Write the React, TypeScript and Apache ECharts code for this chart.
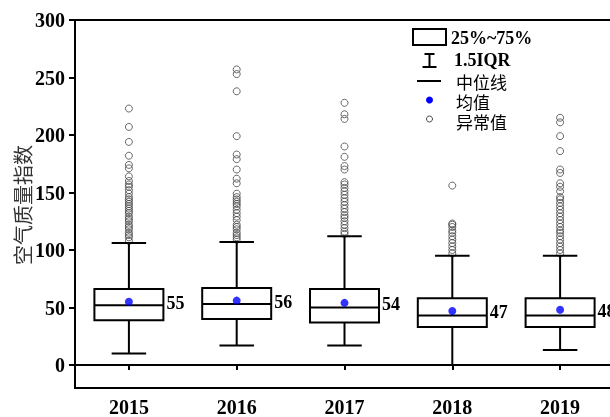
import React, { useEffect, useRef } from "react";
import * as echarts from "echarts";

// Years on the category axis
const years = ["2015", "2016", "2017", "2018", "2019"];

// Box statistics per year: lower whisker, Q1, median, Q3, upper whisker
const lowerWhisker = [10, 17, 17, 0, 13];
const q1 = [39, 40, 37, 33, 33];
const medians = [52, 53, 50, 43, 43];
const q3 = [66, 67, 66, 58, 58];
const upperWhisker = [106, 107, 112, 95, 95];

// Mean air quality index per year
const means = [55, 56, 54, 47, 48];

// Outliers per year
const outliers2015 = [223, 207, 194, 182, 174, 171, 164, 160, 157, 155, 152, 149, 146, 144, 142, 140, 138, 136, 134, 132, 129, 127, 125, 122, 120, 118, 115, 113, 111, 108];
const outliers2016 = [257, 253, 238, 199, 183, 179, 170, 162, 158, 149, 146, 144, 142, 140, 138, 135, 132, 129, 126, 122, 120, 118, 115, 113, 111, 109];
const outliers2017 = [228, 218, 214, 190, 181, 173, 170, 159, 157, 154, 151, 148, 145, 142, 139, 136, 133, 130, 128, 125, 122, 119, 116, 114];
const outliers2018 = [156, 123, 122, 120, 117, 115, 112, 109, 106, 103, 100, 97];
const outliers2019 = [215, 211, 199, 186, 170, 167, 158, 155, 151, 146, 144, 141, 138, 135, 132, 129, 126, 123, 120, 117, 115, 112, 109, 106, 103, 100, 97];

// Axis ticks
const yTicks = [0, 50, 100, 150, 200, 250, 300];

const serif = '"Times New Roman", "Liberation Serif", serif';
const cjk = '"Noto Sans CJK SC", "Noto Sans", sans-serif';

export default function App() {
  const ref = useRef<HTMLDivElement>(null);

  useEffect(() => {
    if (!ref.current) return;
    const chart = echarts.init(ref.current, null, { renderer: "svg" });

    const outlierSets = [outliers2015, outliers2016, outliers2017, outliers2018, outliers2019];
    const outlierData: number[][] = [];
    outlierSets.forEach((set, i) => set.forEach((v) => outlierData.push([i, v])));

    const boxData = years.map((_, i) => [
      i,
      lowerWhisker[i],
      q1[i],
      medians[i],
      q3[i],
      upperWhisker[i],
      means[i],
    ]);

    const meanData = years.map((_, i) => [i, means[i]]);

    const renderBox = (params: any, api: any) => {
      const idx = api.value(0);
      const x = api.coord([idx, 0])[0];
      const band = api.size([1, 0])[0];
      const hb = band * 0.32;
      const hc = band * 0.16;
      const yLow = api.coord([idx, api.value(1)])[1];
      const yQ1 = api.coord([idx, api.value(2)])[1];
      const yMed = api.coord([idx, api.value(3)])[1];
      const yQ3 = api.coord([idx, api.value(4)])[1];
      const yHigh = api.coord([idx, api.value(5)])[1];
      const yMean = api.coord([idx, api.value(6)])[1];
      const line = { stroke: "#000", lineWidth: 2 };
      return {
        type: "group",
        children: [
          { type: "line", shape: { x1: x, y1: yQ3, x2: x, y2: yHigh }, style: line },
          { type: "line", shape: { x1: x - hc, y1: yHigh, x2: x + hc, y2: yHigh }, style: line },
          { type: "line", shape: { x1: x, y1: yQ1, x2: x, y2: yLow }, style: line },
          { type: "line", shape: { x1: x - hc, y1: yLow, x2: x + hc, y2: yLow }, style: line },
          {
            type: "rect",
            shape: { x: x - hb, y: yQ3, width: hb * 2, height: yQ1 - yQ3 },
            style: { fill: "rgba(0,0,0,0)", stroke: "#000", lineWidth: 2 },
          },
          { type: "line", shape: { x1: x - hb, y1: yMed, x2: x + hb, y2: yMed }, style: line },
          {
            type: "text",
            x: x + hb + 3,
            y: yMean + 1,
            style: {
              text: String(api.value(6)),
              fill: "#000",
              font: `bold 18px ${serif}`,
              verticalAlign: "middle",
              textAlign: "left",
            },
          },
        ],
      };
    };

    const legendX = 429.5;
    const legendText = (text: string, x: number, y: number, bold: boolean, family: string, size: number) => ({
      type: "text",
      x,
      y,
      style: {
        text,
        fill: "#000",
        font: `${bold ? "bold " : ""}${size}px ${family}`,
        lineHeight: size,
        verticalAlign: "middle",
        textAlign: "left",
      },
    });

    chart.setOption({
      animation: false,
      grid: [
        {
          left: 75,
          width: 539,
          top: 20,
          bottom: 29,
          show: true,
          borderColor: "#000",
          borderWidth: 2,
          backgroundColor: "rgba(0,0,0,0)",
        },
        { left: 75, width: 539, top: 20, height: 345 },
      ],
      xAxis: [
        {
          type: "category",
          data: years,
          gridIndex: 0,
          boundaryGap: true,
          axisLine: { show: true, lineStyle: { color: "#000", width: 2 } },
          axisTick: { show: true, alignWithLabel: true, length: 5, lineStyle: { color: "#000", width: 2 } },
          axisLabel: { color: "#000", fontFamily: serif, fontWeight: "bold", fontSize: 20, margin: 9 },
          splitLine: { show: false },
        },
        {
          type: "category",
          data: years,
          gridIndex: 1,
          show: false,
        },
      ],
      yAxis: [
        {
          type: "value",
          gridIndex: 0,
          min: -20,
          max: 300,
          axisLine: { show: true, lineStyle: { color: "#000", width: 2 } },
          axisTick: { show: false },
          axisLabel: { show: false },
          splitLine: { show: false },
        },
        {
          type: "value",
          gridIndex: 1,
          min: yTicks[0],
          max: yTicks[yTicks.length - 1],
          interval: 50,
          axisLine: { show: false },
          axisTick: { show: true, length: 6, lineStyle: { color: "#000", width: 2 } },
          axisLabel: { color: "#000", fontFamily: serif, fontWeight: "bold", fontSize: 20, margin: 10 },
          splitLine: { show: false },
        },
      ],
      series: [
        {
          type: "scatter",
          xAxisIndex: 0,
          yAxisIndex: 0,
          data: outlierData,
          symbol: "circle",
          symbolSize: 7,
          itemStyle: { color: "rgba(0,0,0,0)", borderColor: "#444", borderWidth: 1 },
          z: 2,
        },
        {
          type: "custom",
          xAxisIndex: 0,
          yAxisIndex: 0,
          data: boxData,
          renderItem: renderBox,
          encode: { x: 0, y: [1, 2, 3, 4, 5] },
          z: 3,
        },
        {
          type: "scatter",
          xAxisIndex: 0,
          yAxisIndex: 0,
          data: meanData,
          symbol: "circle",
          symbolSize: 8,
          itemStyle: { color: "#0000ff" },
          z: 4,
        },
      ],
      graphic: [
        {
          type: "text",
          x: 22,
          y: 205,
          rotation: Math.PI / 2,
          style: {
            text: "空气质量指数",
            fill: "#333",
            font: `20px ${cjk}`,
            textAlign: "center",
            verticalAlign: "middle",
          },
        },
        // Legend: interquartile box
        {
          type: "rect",
          shape: { x: 413, y: 29, width: 33, height: 16 },
          style: { fill: "rgba(0,0,0,0)", stroke: "#000", lineWidth: 2 },
        },
        legendText("25%~75%", 451, 38, true, serif, 18),
        // Legend: whisker
        { type: "line", shape: { x1: legendX - 5, y1: 54, x2: legendX + 5, y2: 54 }, style: { stroke: "#000", lineWidth: 2 } },
        { type: "line", shape: { x1: legendX, y1: 54, x2: legendX, y2: 67 }, style: { stroke: "#000", lineWidth: 2 } },
        { type: "line", shape: { x1: legendX - 7, y1: 67, x2: legendX + 7, y2: 67 }, style: { stroke: "#000", lineWidth: 2 } },
        legendText("1.5IQR", 454, 60, true, serif, 18),
        // Legend: median
        { type: "line", shape: { x1: 417, y1: 81, x2: 441, y2: 81 }, style: { stroke: "#000", lineWidth: 2 } },
        legendText("中位线", 456, 81, false, cjk, 17),
        // Legend: mean
        { type: "circle", shape: { cx: legendX, cy: 100, r: 3.5 }, style: { fill: "#0000ff" } },
        legendText("均值", 456, 101, false, cjk, 17),
        // Legend: outlier
        { type: "circle", shape: { cx: legendX, cy: 119, r: 3 }, style: { fill: "rgba(0,0,0,0)", stroke: "#444", lineWidth: 1 } },
        legendText("异常值", 456, 121, false, cjk, 17),
      ],
    });

    return () => chart.dispose();
  }, []);

  // The plot frame runs a few pixels past the window's right edge
  return (
    <div
      ref={ref}
      style={{ position: "fixed", left: 0, top: 0, width: 620, height: 417 }}
    />
  );
}
